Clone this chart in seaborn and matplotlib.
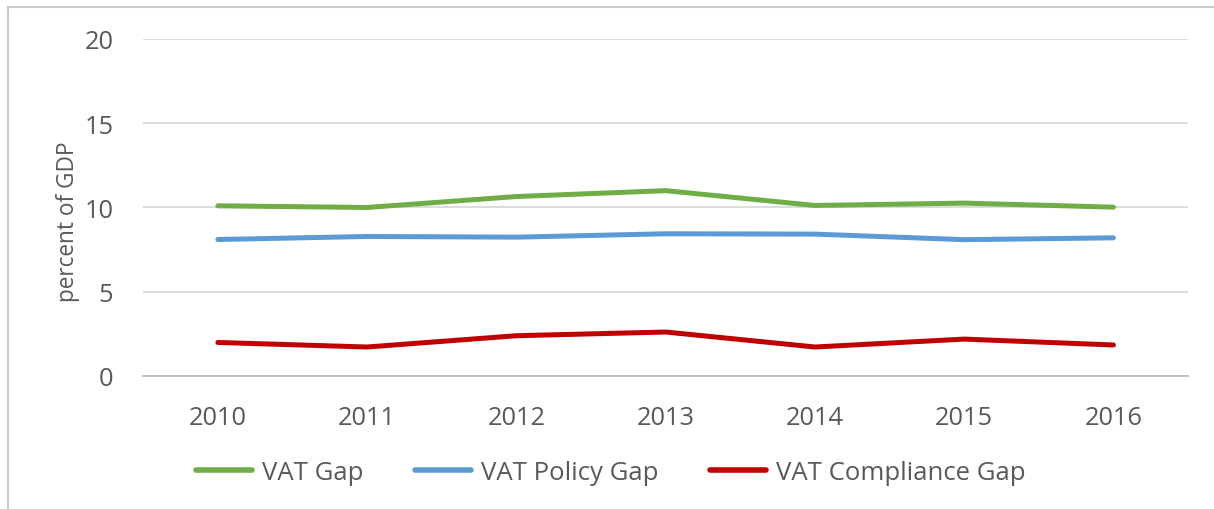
import pandas as pd
import matplotlib
matplotlib.use("Agg")
import matplotlib.pyplot as plt
import seaborn as sns

years = ["2010", "2011", "2012", "2013", "2014", "2015", "2016"]
vat_gap = [10.1, 10.0, 10.65, 11.0, 10.12, 10.26, 10.02]
policy_gap = [8.1, 8.28, 8.24, 8.44, 8.42, 8.09, 8.2]
compliance_gap = [1.99, 1.72, 2.39, 2.61, 1.72, 2.19, 1.84]

series = ["VAT Gap", "VAT Policy Gap", "VAT Compliance Gap"]
colors = ["#70AD47", "#5B9BD5", "#C00000"]

df = pd.DataFrame({
    "year": years * 3,
    "value": vat_gap + policy_gap + compliance_gap,
    "series": [s for s in series for _ in years],
})

sns.set_style("white")
plt.rcParams["font.family"] = ["Open Sans", "DejaVu Sans"]

fig = plt.figure(figsize=(12.14, 5.10), dpi=100)
ax = fig.add_axes([0.118, 0.2608, 0.8606, 0.6608])

sns.lineplot(data=df, x="year", y="value", hue="series", palette=colors,
             linewidth=3.6, ax=ax, sort=False, solid_capstyle="round")

ax.set_xlim(-0.5, 6.5)
ax.set_ylim(0, 20)
ax.set_yticks([0, 5, 10, 15, 20])
ax.grid(axis="y", color="#d9d9d9", linewidth=1.3)
ax.set_axisbelow(True)
for s in ["top", "right", "left"]:
    ax.spines[s].set_visible(False)
ax.spines["bottom"].set_color("#bfbfbf")
ax.spines["bottom"].set_linewidth(1.3)

ax.tick_params(axis="both", length=0, labelsize=18.3, colors="#595959")
ax.tick_params(axis="x", pad=21)
ax.tick_params(axis="y", pad=21.5)
ax.set_xlabel("")
ax.set_ylabel("percent of GDP", fontsize=16.3, color="#595959")
ax.yaxis.set_label_coords(-0.061, 0.46)

handles, labels = ax.get_legend_handles_labels()
ax.legend_.remove()
leg = fig.legend(handles, labels, loc="center", bbox_to_anchor=(0.503, 0.0725),
                 ncol=3, frameon=False, fontsize=18.5, handlelength=2.18,
                 columnspacing=2.02, handletextpad=0.39)
for t in leg.get_texts():
    t.set_color("#595959")
for h in leg.get_lines():
    h.set_linewidth(4)

# chart frame
fig.patches.append(plt.Rectangle((8 / 1214, -0.1), 1.2, 1.1 - 8 / 510,
                                 transform=fig.transFigure, fill=False,
                                 edgecolor="#c8c8c8", linewidth=1.5))

fig.savefig("out.png", dpi=100)
